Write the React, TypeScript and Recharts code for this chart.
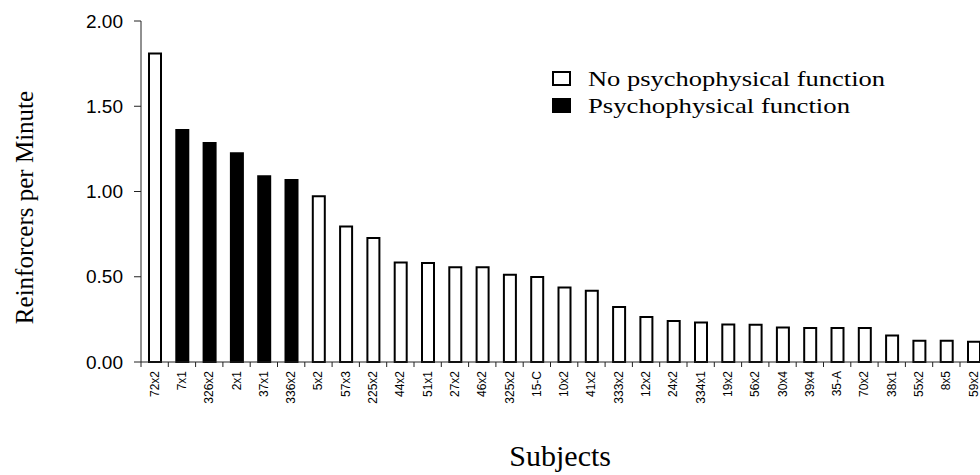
import { BarChart, Bar, Cell, XAxis, YAxis, Label } from "recharts";

const subjects = [
	"72x2", "7x1", "326x2", "2x1", "37x1", "336x2", "5x2", "57x3", "225x2", "44x2", "51x1",
	"27x2", "46x2", "325x2", "15-C", "10x2", "41x2", "333x2", "12x2", "24x2", "334x1", "19x2",
	"56x2", "30x4", "39x4", "35-A", "70x2", "38x1", "55x2", "8x5", "59x2",
];

const rates = [
	1.81, 1.36, 1.285, 1.224, 1.089, 1.068, 0.972, 0.794, 0.728, 0.584, 0.58,
	0.556, 0.556, 0.511, 0.498, 0.437, 0.418, 0.322, 0.264, 0.24, 0.232, 0.22,
	0.218, 0.203, 0.199, 0.199, 0.199, 0.156, 0.125, 0.125, 0.119,
];

// true = psychophysical function obtained
const hasFunction = [
	false, true, true, true, true, true, false, false, false, false, false,
	false, false, false, false, false, false, false, false, false, false, false,
	false, false, false, false, false, false, false, false, false,
];

const yTicks = [0, 0.5, 1, 1.5, 2];

const legendItems = [
	{ label: "No psychophysical function", fill: "#fff", width: 297 },
	{ label: "Psychophysical function", fill: "#000", width: 262 },
];

const data = subjects.map((s, i) => ({ subject: s, rate: rates[i], psych: hasFunction[i] }));

const sans = "'Liberation Sans', Arial, sans-serif";
const serif = "'Liberation Serif', 'Times New Roman', serif";

function SubjectTick(props: any) {
	const { x, y, payload } = props;
	const half = payload && payload.offset ? payload.offset : 13.65;
	const ty = y + 9;
	return (
		<g>
			<line x1={x - half} y1={y} x2={x - half} y2={y + 5} stroke="#222" strokeWidth={1} />
			<text
				x={x}
				y={ty}
				transform={`rotate(-90, ${x}, ${ty})`}
				textAnchor="end"
				dominantBaseline="central"
				fontSize={12}
				fontFamily={sans}
				fill="#000"
			>
				{payload.value}
			</text>
		</g>
	);
}

function ChartLegend() {
	return (
		<svg width={400} height={64} style={{ position: "absolute", left: 550, top: 66 }}>
			{legendItems.map((item, i) => (
				<g key={item.label}>
					<rect x={3} y={6 + i * 27} width={17} height={13} fill={item.fill} stroke="#000" strokeWidth={2} />
					<text
						x={38}
						y={20 + i * 27}
						fontSize={21}
						fontFamily={serif}
						fill="#000"
						textLength={item.width}
						lengthAdjust="spacingAndGlyphs"
					>
						{item.label}
					</text>
				</g>
			))}
		</svg>
	);
}

export default function App() {
	return (
		<div style={{ position: "absolute", left: 0, top: 0, width: 980, height: 475, overflow: "hidden", background: "#fff" }}>
			<BarChart width={1000} height={475} data={data} margin={{ top: 21, right: 12.7, left: 0, bottom: 0 }}>
				<YAxis
					width={141}
					domain={[0, 2]}
					ticks={yTicks}
					tickFormatter={(v: number) => v.toFixed(2)}
					tick={{ fontSize: 19, fontFamily: sans, fill: "#000" }}
					tickSize={7}
					tickMargin={11}
					axisLine={{ stroke: "#222" }}
					tickLine={{ stroke: "#222" }}
				>
					<Label
						content={(p: any) => {
							const vb = p.viewBox;
							const cx = 24;
							const cy = vb.y + vb.height / 2 + 16;
							return (
								<text
									x={cx}
									y={cy}
									transform={`rotate(-90, ${cx}, ${cy})`}
									textAnchor="middle"
									dominantBaseline="central"
									fontSize={25}
									fontFamily={serif}
									fill="#000"
								>
									Reinforcers per Minute
								</text>
							);
						}}
					/>
				</YAxis>
				<XAxis
					dataKey="subject"
					interval={0}
					height={113}
					tick={<SubjectTick />}
					tickLine={false}
					tickSize={0}
					tickMargin={0}
					axisLine={{ stroke: "#222" }}
				>
					<Label
						content={(p: any) => {
							const vb = p.viewBox;
							return (
								<text
									x={vb.x + vb.width / 2 - 4}
									y={466}
									textAnchor="middle"
									fontSize={30}
									fontFamily={serif}
									fill="#000"
								>
									Subjects
								</text>
							);
						}}
					/>
				</XAxis>
				<Bar dataKey="rate" barSize={12} stroke="#000" strokeWidth={2} isAnimationActive={false}>
					{data.map((d) => (
						<Cell key={d.subject} fill={d.psych ? "#000" : "#fff"} />
					))}
				</Bar>
			</BarChart>
			<ChartLegend />
		</div>
	);
}
